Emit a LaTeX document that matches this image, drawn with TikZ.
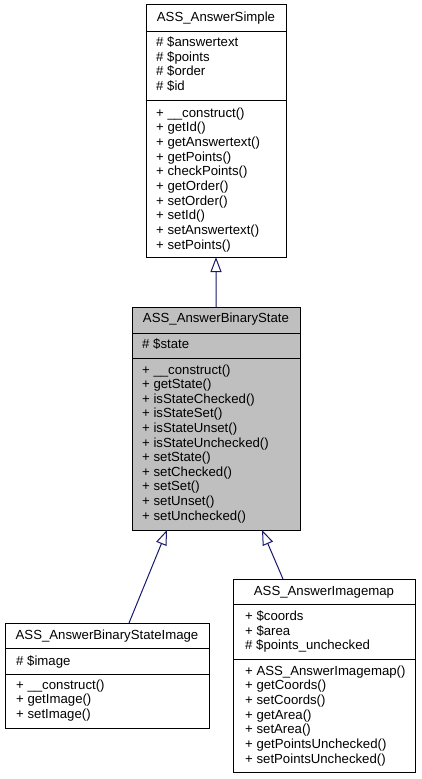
\documentclass[tikz,border=0pt]{standalone}
\usepackage{fontspec}
\setmainfont{Liberation Sans}
\usetikzlibrary{arrows.meta}
\definecolor{edgeblue}{HTML}{191970}
\definecolor{boxgray}{HTML}{BFBFBF}
\tikzset{
  cls/.style={draw=black, line width=1bp, anchor=north west, inner sep=0pt, outer sep=0pt},
  txt/.style={anchor=base west, inner sep=0pt, font=\fontsize{13.2bp}{14.6bp}\selectfont},
  ttl/.style={anchor=base, inner sep=0pt, font=\fontsize{13.2bp}{14.6bp}\selectfont},
  sep/.style={draw=black, line width=1bp},
  inh/.style={draw=edgeblue, line width=1bp, -{Triangle[open, length=15bp, width=11bp, fill=white]}}
}
\begin{document}
\begin{tikzpicture}[x=1bp,y=-1bp]
\useasboundingbox (0,0) rectangle (421,779);
\fill[white] (0,0) rectangle (421,779);

% ASS_AnswerSimple
\node[cls, fill=white, minimum width=140bp, minimum height=252bp] (simple) at (146,5) {};
\draw[sep] ([yshift=-27bp]simple.north west) -- ([yshift=-27bp]simple.north east);
\draw[sep] ([yshift=-95bp]simple.north west) -- ([yshift=-95bp]simple.north east);
\node[ttl] (simple-t) at (216,22) {ASS\_AnswerSimple};
\foreach \t [count=\i] in {\#\ \$answertext, \#\ \$points, \#\ \$order, \#\ \$id}
  \node[txt] (simple-a\i) at (156,{47+(\i-1)*14.4}) {\t};
\foreach \t [count=\i] in {+ \_\_construct(), + getId(), + getAnswertext(), + getPoints(), + checkPoints(), + getOrder(), + setOrder(), + setId(), + setAnswertext(), + setPoints()}
  \node[txt] (simple-m\i) at (156,{117+(\i-1)*14.7}) {\t};

% ASS_AnswerBinaryState
\node[cls, fill=boxgray, minimum width=168bp, minimum height=223bp] (bs) at (132,307) {};
\draw[sep] ([yshift=-26bp]bs.north west) -- ([yshift=-26bp]bs.north east);
\draw[sep] ([yshift=-51bp]bs.north west) -- ([yshift=-51bp]bs.north east);
\node[ttl] (bs-t) at (216,322.7) {ASS\_AnswerBinaryState};
\node[txt] (bs-a1) at (142,348) {\#\ \$state};
\foreach \t [count=\i] in {+ \_\_construct(), + getState(), + isStateChecked(), + isStateSet(), + isStateUnset(), + isStateUnchecked(), + setState(), + setChecked(), + setSet(), + setUnset(), + setUnchecked()}
  \node[txt] (bs-m\i) at (142,{374+(\i-1)*14.6}) {\t};

% ASS_AnswerBinaryStateImage
\node[cls, fill=white, minimum width=204bp, minimum height=105bp] (bsi) at (5,623) {};
\draw[sep] ([yshift=-25bp]bsi.north west) -- ([yshift=-25bp]bsi.north east);
\draw[sep] ([yshift=-51bp]bsi.north west) -- ([yshift=-51bp]bsi.north east);
\node[ttl] (bsi-t) at (107,639) {ASS\_AnswerBinaryStateImage};
\node[txt] (bsi-a1) at (16,665) {\#\ \$image};
\foreach \t [count=\i] in {+ \_\_construct(), + getImage(), + setImage()}
  \node[txt] (bsi-m\i) at (16,{689+(\i-1)*14.6}) {\t};

% ASS_AnswerImagemap
\node[cls, fill=white, minimum width=182bp, minimum height=193bp] (aim) at (233,579) {};
\draw[sep] ([yshift=-25bp]aim.north west) -- ([yshift=-25bp]aim.north east);
\draw[sep] ([yshift=-80bp]aim.north west) -- ([yshift=-80bp]aim.north east);
\node[ttl] (aim-t) at (324,595) {ASS\_AnswerImagemap};
\foreach \t [count=\i] in {+ \$coords, + \$area, \#\ \$points\_unchecked}
  \node[txt] (aim-a\i) at (245,{620.7+(\i-1)*14.3}) {\t};
\foreach \t [count=\i] in {+ ASS\_AnswerImagemap(), + getCoords(), + setCoords(), + getArea(), + setArea(), + getPointsUnchecked(), + setPointsUnchecked()}
  \node[txt] (aim-m\i) at (245,{675+(\i-1)*14.67}) {\t};

% inheritance
\draw[inh] (bs.north) -- (simple.south);
\draw[inh] ([xshift=124bp]bsi.north west) -- ([xshift=35bp]bs.south west);
\draw[inh] ([xshift=50bp]aim.north west) -- ([xshift=130bp]bs.south west);
\end{tikzpicture}
\end{document}
